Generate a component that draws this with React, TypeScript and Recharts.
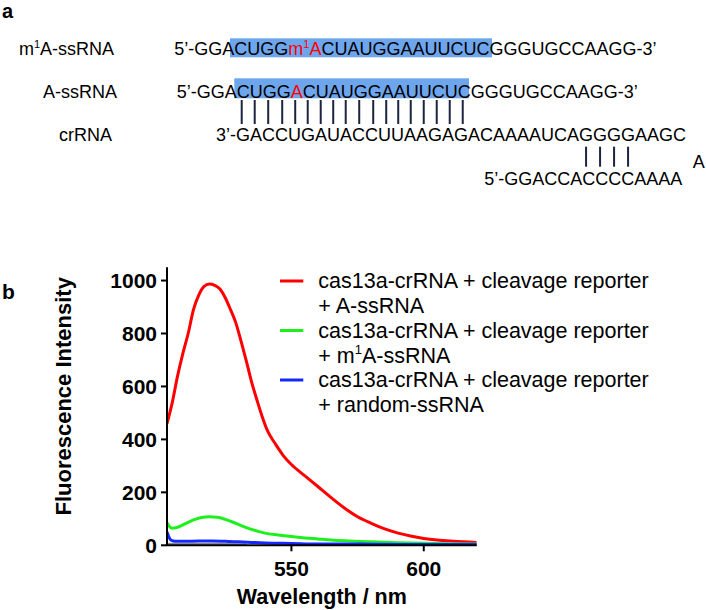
import React from "react";
import { LineChart, Line, XAxis, YAxis, Legend } from "recharts";

const FONT = "'Liberation Sans', Arial, Helvetica, sans-serif";
const RED = "#ff0000";

// ---- panel b: emission spectra (wavelength nm -> intensity) ----
const redWl = [503, 505, 507, 509, 511, 513, 515, 517, 519, 521, 523, 525, 527, 529, 531, 533, 535, 537, 539, 541, 544, 547, 550, 555, 560, 565, 570, 575, 580, 585, 590, 595, 600, 605, 610, 615, 620];
const redVal = [460, 540, 640, 725, 800, 890, 945, 978, 987, 982, 968, 935, 890, 840, 770, 695, 615, 548, 485, 432, 382, 338, 305, 263, 222, 180, 141, 108, 84, 63, 47, 35, 26, 20, 16, 13, 11];

const greenWl = [503, 504, 505, 507, 510, 513, 516, 519, 522, 525, 528, 531, 534, 537, 540, 545, 550, 555, 560, 565, 570, 580, 590, 600, 610, 620];
const greenVal = [85, 70, 64, 68, 82, 96, 105, 108, 106, 98, 87, 74, 63, 54, 46, 39, 33, 28, 24, 20, 17, 13, 10, 8, 6, 5];

const blueWl = [503, 504, 505, 507, 510, 515, 520, 525, 530, 535, 540, 550, 560, 570, 580, 600, 620];
const blueVal = [50, 26, 17, 15, 15, 16, 16, 15, 13, 11, 9, 7, 5, 5, 4, 3, 3];

const grayWl = [503, 510, 520, 533];
const grayVal = [5, 4, 4, 3];

const xTicks = [550, 600];
const yTicks = [0, 200, 400, 600, 800, 1000];

const LEGEND_LINE1 = "cas13a-crRNA + cleavage reporter";

const toPoints = (wl: number[], val: number[]) => wl.map((w, i) => ({ wl: w, v: val[i] }));

const SERIES = [
  { key: "gray", color: "#8a8a8a", width: 2.5, data: toPoints(grayWl, grayVal), legend: null },
  { key: "A", color: RED, width: 3, data: toPoints(redWl, redVal), legend: { pre: "+ A-ssRNA" } },
  { key: "m1A", color: "#1ef01e", width: 3, data: toPoints(greenWl, greenVal), legend: { pre: "+ m", sup: "1", post: "A-ssRNA" } },
  { key: "random", color: "#1428ff", width: 3, data: toPoints(blueWl, blueVal), legend: { pre: "+ random-ssRNA" } },
];

// ---- panel a: sequences ----
type Piece = { t: string; hl?: boolean; red?: boolean; sup?: boolean };

const SEQ_M1A: Piece[] = [
  { t: "5’-GGA" },
  { t: "CUGG", hl: true },
  { t: "m", hl: true, red: true },
  { t: "1", hl: true, red: true, sup: true },
  { t: "A", hl: true, red: true },
  { t: "CUAUGGAAUUCUC", hl: true },
  { t: "GGGUGCCAAGG-3’" },
];
const SEQ_A: Piece[] = [
  { t: "5’-GGA" },
  { t: "CUGG", hl: true },
  { t: "A", hl: true, red: true },
  { t: "CUAUGGAAUUCUC", hl: true },
  { t: "GGGUGCCAAGG-3’" },
];
const CRRNA = "3’-GACCUGAUACCUUAAGAGACAAAAUCAGGGGAAGC";
const REPORTER = "5’-GGACCACCCCAAAA";
const LABEL_M1A: Piece[] = [{ t: "m" }, { t: "1", sup: true }, { t: "A-ssRNA" }];

const SEQ_SIZE = 18;
const SUP_SIZE = 11;
const HL_COLOR = "#6ea6ee";
const PAIR_COLOR = "#1b2440";

let ctx: CanvasRenderingContext2D | null = null;
function textW(s: string, size: number, weight = "normal") {
  if (!ctx) ctx = document.createElement("canvas").getContext("2d");
  if (!ctx) return s.length * size * 0.6;
  ctx.font = `${weight} ${size}px ${FONT}`;
  return ctx.measureText(s).width;
}

function layoutPieces(pieces: Piece[], x0: number) {
  let x = x0;
  return pieces.map((p) => {
    const size = p.sup ? SUP_SIZE : SEQ_SIZE;
    const w = textW(p.t, size);
    const out = { ...p, x, w, size };
    x += w;
    return out;
  });
}

function PieceText({ items, y }: { items: ReturnType<typeof layoutPieces>; y: number }) {
  return (
    <>
      {items.map((p, i) => (
        <text key={i} x={p.x} y={p.sup ? y - 7 : y} fontSize={p.size} fill={p.red ? RED : "#000"}>
          {p.t}
        </text>
      ))}
    </>
  );
}

function SeqRow({ pieces, x, y, boxTop, boxH, padL, padR }: any) {
  const items = layoutPieces(pieces, x);
  const hl = items.filter((p) => p.hl);
  const bx = hl[0].x + padL;
  const bw = hl[hl.length - 1].x + hl[hl.length - 1].w + padR - bx;
  return (
    <g>
      <rect x={bx} y={y + boxTop} width={bw} height={boxH} fill={HL_COLOR} />
      <PieceText items={items} y={y} />
    </g>
  );
}

function PanelA() {
  // base-pair ticks under the highlighted A-ssRNA region
  const aItems = layoutPieces(SEQ_A, 176.7);
  const pairX: number[] = [];
  aItems.filter((p) => p.hl).forEach((p) => {
    for (let k = 0; k < p.t.length; k++) {
      pairX.push(p.x + textW(p.t.slice(0, k), SEQ_SIZE) + textW(p.t[k], SEQ_SIZE) / 2 - 1.5);
    }
  });
  // ticks between crRNA GGGG and reporter
  const gi = CRRNA.indexOf("GGGG");
  const crX = 216;
  const repX: number[] = [0, 1, 2, 3].map(
    (k) => crX + textW(CRRNA.slice(0, gi + k), SEQ_SIZE) + textW(CRRNA[gi + k], SEQ_SIZE) / 2
  );

  return (
    <svg width={706} height={610} style={{ position: "absolute", left: 0, top: 0 }} fontFamily={FONT}>
      <text x={2} y={18} fontSize={20} fontWeight="bold">a</text>
      <text x={2} y={299} fontSize={21} fontWeight="bold">b</text>

      <PieceText items={layoutPieces(LABEL_M1A, 19)} y={55} />
      <text x={43} y={98.3} fontSize={SEQ_SIZE}>A-ssRNA</text>
      <text x={59} y={141} fontSize={SEQ_SIZE}>crRNA</text>

      <SeqRow pieces={SEQ_M1A} x={174.3} y={55} boxTop={-16.7} boxH={19} padL={-4.3} padR={2.6} />
      <SeqRow pieces={SEQ_A} x={176.7} y={98.3} boxTop={-20} boxH={20} padL={-2.4} padR={-1.7} />

      {pairX.map((x, i) => (
        <line key={i} x1={x} x2={x} y1={100} y2={124} stroke={PAIR_COLOR} strokeWidth={2} />
      ))}
      <text x={crX} y={141} fontSize={SEQ_SIZE}>{CRRNA}</text>
      {repX.map((x, i) => (
        <line key={i} x1={x} x2={x} y1={146.7} y2={166.7} stroke={PAIR_COLOR} strokeWidth={2} />
      ))}
      <text x={692.7} y={168.3} fontSize={SEQ_SIZE}>A</text>
      <text x={484.3} y={185} fontSize={SEQ_SIZE}>{REPORTER}</text>
    </svg>
  );
}

function LegendBox() {
  const rows = SERIES.filter((s) => s.legend);
  return (
    <svg width={420} height={150} fontFamily={FONT} style={{ display: "block" }}>
      {rows.map((s, i) => {
        const y = 20 + i * 49.5;
        const l: any = s.legend;
        return (
          <g key={s.key}>
            <line x1={0} x2={23.3} y1={y - 7} y2={y - 7} stroke={s.color} strokeWidth={3} />
            <text x={38.3} y={y} fontSize={21.5} fill="#000">{LEGEND_LINE1}</text>
            <text x={38.3} y={y + 25} fontSize={21.5} fill="#000">
              <tspan>{l.pre}</tspan>
              {l.sup && <tspan dy={-9} fontSize={13}>{l.sup}</tspan>}
              {l.post && <tspan dy={9}>{l.post}</tspan>}
            </text>
          </g>
        );
      })}
    </svg>
  );
}

const XTitle = (p: any) => {
  const vb = p.viewBox || { x: 167, y: 295.3, width: 309.7, height: 64.7 };
  return (
    <text x={vb.x + vb.width / 2} y={vb.y + 58.7} textAnchor="middle" fontSize={21.5} fontWeight="bold" fontFamily={FONT} fill="#000">
      Wavelength / nm
    </text>
  );
};

const YTitle = (p: any) => {
  const vb = p.viewBox || { x: 0, y: 17.3, width: 167, height: 278 };
  const x = vb.x + 71;
  const y = vb.y + vb.height / 2 - 10;
  return (
    <text x={x} y={y} transform={`rotate(-90, ${x}, ${y})`} textAnchor="middle" fontSize={22} fontWeight="bold" fontFamily={FONT} fill="#000">
      Fluorescence Intensity
    </text>
  );
};

export default function App() {
  const tickStyle = { fill: "#000", fontSize: 21, fontWeight: "bold", fontFamily: FONT };
  return (
    <div style={{ position: "absolute", left: 0, top: 0, width: 706, height: 610, background: "#fff", fontFamily: FONT }}>
      <PanelA />
      <div style={{ position: "absolute", left: 0, top: 250 }}>
        <LineChart width={706} height={360} margin={{ top: 17.3, right: 229.3, bottom: 0, left: 0 }}>
          <XAxis
            type="number"
            dataKey="wl"
            domain={[503, 620]}
            ticks={xTicks}
            allowDataOverflow
            height={64.7}
            axisLine={{ stroke: "#000", strokeWidth: 2 }}
            tickLine={{ stroke: "#000", strokeWidth: 2 }}
            tickSize={6}
            tickMargin={10}
            tick={tickStyle}
            label={XTitle}
          />
          <YAxis
            type="number"
            domain={[0, 1050]}
            ticks={yTicks}
            width={167}
            axisLine={{ stroke: "#000", strokeWidth: 2 }}
            tickLine={{ stroke: "#000", strokeWidth: 2 }}
            tickSize={6}
            tickMargin={4}
            tick={tickStyle}
            label={YTitle}
          />
          <Legend
            content={LegendBox}
            layout="horizontal"
            verticalAlign="middle"
            align="center"
            wrapperStyle={{ left: 280, top: 18, width: 420, height: 150 }}
          />
          {SERIES.map((s) => (
            <Line
              key={s.key}
              data={s.data}
              dataKey="v"
              type="monotone"
              stroke={s.color}
              strokeWidth={s.width}
              dot={false}
              activeDot={false}
              isAnimationActive={false}
              legendType="none"
            />
          ))}
        </LineChart>
      </div>
    </div>
  );
}
